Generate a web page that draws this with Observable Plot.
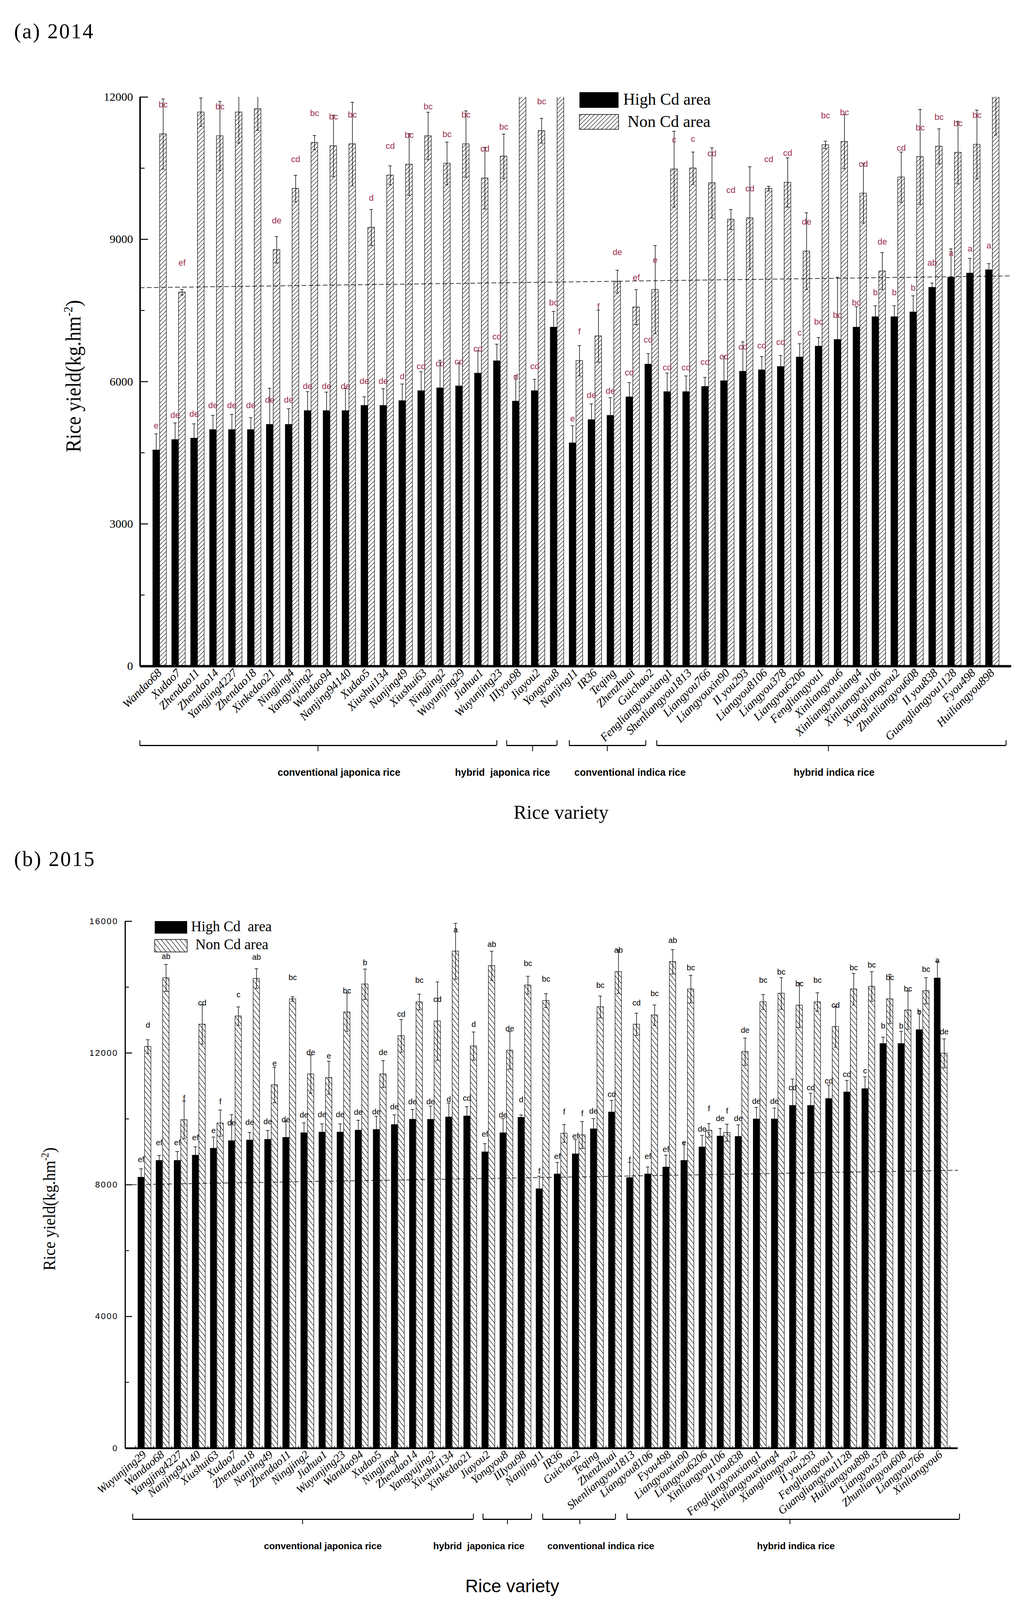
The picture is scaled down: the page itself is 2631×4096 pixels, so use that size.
<!DOCTYPE html>
<html>
<head>
<meta charset="utf-8">
<script src="https://cdn.jsdelivr.net/npm/d3@7"></script>
<script src="https://cdn.jsdelivr.net/npm/@observablehq/plot@0.6"></script>
<style>
html,body{margin:0;padding:0;background:#fff;}
#root{position:relative;width:2631px;height:4096px;overflow:hidden;background:#fff;}
#root > svg{position:absolute;left:0;}
</style>
</head>
<body>
<svg width="0" height="0" style="position:absolute">
  <defs>
    <pattern id="hatchA" patternUnits="userSpaceOnUse" width="11" height="11">
      <path d="M-2,2 L2,-2 M0,11 L11,0 M9,13 L13,9" stroke="#000" stroke-width="1.1" fill="none"/>
    </pattern>
    <pattern id="hatchB" patternUnits="userSpaceOnUse" width="12" height="15">
      <path d="M0,0 L12,15 M10,-2.5 L14,2.5 M-2,12.5 L2,17.5" stroke="#000" stroke-width="1.1" fill="none"/>
    </pattern>
  </defs>
</svg>
<div id="root"></div>
<script>
// ---------------- DATA : (a) 2014 ----------------
const varietiesA = ["Wandao68","Xudao7","Zhendao11","Zhendao14","Yangjing4227","Zhendao18","Xinkedao21","Ningjing4","Yangyujing2","Wandao94","Nanjing94140","Xudao5","Xiushui134","Nanjing49","Xiushui63","Ningjing2","Wuyunjing29","Jiahua1","Wuyunjing23","IIIyou98","Jiayou2","Yongyou8","Nanjing11","IR36","Teqing","Zhenzhuai","Guichao2","Fengliangyouxiang1","Shenliangyou1813","Liangyou766","Liangyouxin90","II you293","Liangyou8106","Liangyou378","Liangyou6206","Fengliangyou1","Xinliangyou6","Xinliangyouxiang4","Xinliangyou106","Xiangliangyou2","Zhunliangyou608","II you838","Guangliangyou1128","Fyou498","Huiliangyou898"];
const highA    = [4560,4780,4810,4990,4990,4990,5100,5100,5390,5390,5390,5500,5500,5600,5810,5870,5910,6180,6440,5590,5810,7150,4710,5200,5290,5680,6370,5790,5790,5900,6020,6220,6250,6320,6520,6750,6890,7150,7370,7370,7470,7990,8200,8290,8360];
const highErrA = [340,350,300,300,320,250,760,330,400,390,470,180,350,350,400,580,490,470,350,540,240,330,360,330,370,300,220,390,330,190,510,620,280,230,280,180,1310,430,230,230,340,90,600,310,130];
const highLetA = ["e","de","de","de","de","de","de","de","de","de","de","de","de","d","cd","cd","cd","cd","cd","d","cd","bc","e","de","de","cd","cd","cd","cd","cd","cd","cd","cd","cd","c","bc","bc","bc","b","b","b","ab","a","a","a"];
const nonA     = [11220,7885,11680,11180,11680,11750,8780,10070,11040,10970,11010,9250,10350,10580,11180,10600,11010,10290,10750,12600,11290,12700,6440,6960,8110,7570,7940,10480,10500,10190,9420,9450,10070,10200,8750,10990,11060,9970,8330,10310,10740,10960,10830,11000,12300];
const nonErrA  = [740,60,300,730,650,450,280,280,150,650,880,380,200,650,500,450,700,650,470,500,260,500,320,550,240,370,930,800,340,740,210,1080,50,520,810,80,570,625,390,530,1000,370,660,725,1100];
const nonLetA  = ["bc","ef","","bc","","","de","cd","bc","bc","bc","d","cd","bc","bc","bc","bc","cd","bc","","bc","","f","f","de","ef","e","c","c","cd","cd","cd","cd","cd","de","bc","bc","cd","de","cd","bc","bc","bc","bc",""];
const trendA   = [7980, 8230];
const yTicksA  = [0,3000,6000,9000,12000];
const yMinorA  = [1500,4500,7500,10500];
const groupsA  = ["conventional japonica rice","hybrid  japonica rice","conventional indica rice","hybrid indica rice"];

// ---------------- DATA : (b) 2015 ----------------
const varietiesB = ["Wuyunjing29","Wandao68","Yangjing4227","Nanjing94140","Xiushui63","Xudao7","Zhendao18","Nanjing49","Zhendao11","Ningjing2","Jiahua1","Wuyunjing23","Wandao94","Xudao5","Ningjing4","Zhendao14","Yangyujing2","Xiushui134","Xinkedao21","Jiayou2","Yongyou8","IIIyou98","Nanjing11","IR36","Guichao2","Teqing","Zhenzhuai","Shenliangyou1813","Liangyou8106","Fyou498","Liangyouxin90","Liangyou6206","Xinliangyou106","II you838","Fengliangyouxiang1","Xinliangyouxiang4","Xiangliangyou2","II you293","Fengliangyou1","Guangliangyou1128","Huiliangyou898","Liangyou378","Zhunliangyou608","Liangyou766","Xinliangyou6"];
const highB    = [8230,8740,8740,8900,9110,9340,9360,9380,9440,9580,9600,9600,9660,9680,9830,9990,9990,10060,10090,9000,9580,10050,7880,8330,8940,9700,10210,8220,8330,8540,8740,9150,9480,9470,10000,10000,10410,10410,10620,10820,10920,12290,12290,12710,14280];
const highErrB = [255,150,270,250,340,790,230,270,500,300,250,250,300,400,290,300,400,420,280,250,430,70,380,350,430,310,350,460,210,360,540,350,230,350,350,330,800,370,410,350,360,190,370,570,500];
const highLetB = ["ef","ef","ef","ef","e","de","de","de","de","de","de","de","de","de","de","de","de","d","cd","ef","de","d","f","ef","ef","de","cd","f","ef","ef","e","de","de","de","de","de","cd","cd","cd","cd","c","b","b","b","a"];
const nonB     = [12195,14280,9970,12870,9870,13120,14260,11030,13640,11360,11250,13240,14090,11360,12520,13550,12970,15090,12210,14650,12080,14060,13590,9560,9510,13400,14470,12870,13150,14770,13940,9650,9580,12040,13550,13810,13450,13550,12800,13940,14020,13640,13300,13890,11990];
const nonErrB  = [210,410,570,600,400,280,300,540,70,580,500,580,460,410,500,240,1190,850,430,440,570,270,210,270,410,330,660,340,310,370,420,210,260,415,225,480,680,280,620,480,450,750,580,400,440];
const nonLetB  = ["d","ab","f","cd","f","c","ab","e","bc","de","e","bc","b","de","cd","bc","cd","a","d","ab","de","bc","bc","f","f","bc","ab","cd","bc","ab","bc","f","f","de","bc","bc","bc","bc","cd","bc","bc","bc","bc","bc","de"];
const trendB   = [8000, 8440];
const yTicksB  = [0,4000,8000,12000,16000];
const yMinorB  = [2000,6000,10000,14000];
const groupsB  = ["conventional japonica rice","hybrid  japonica rice","conventional indica rice","hybrid indica rice"];

// ---------------- LAYOUT (output pixels / index units) ----------------
const W = 2631;
const layoutA = {
  top: 0, height: 2140, marginLeft: 358, marginRight: 43, marginTop: 248, marginBottom: 435,
  xDomain: [-1.04, 45.0], blk: [-0.37, -0.005], hat: [0.005, 0.355], cap: 0.09,
  pattern: "url(#hatchA)", letColor: "#9b2f4f", letFont: 22, nonLetOff: 75, highLetOff: 62,
  yTickFont: 30, yTickFamily: "Liberation Serif", yTickPad: 18, yLetterSpacing: "0px",
  majorLen: 21, minorLen: 12, yAxisW: 4, xAxisW: 6,
  xTickFont: 30, xRot: -45, xTickPad: 12,
  brY: 203, brUp: 13, brDown: 15, glY: 280, glFont: 25,
  brackets: [[-1.05, 17.81, 8.36, 9.47], [18.33, 20.99, 19.7, 18.11], [21.64, 25.68, 23.65, 24.85], [26.26, 44.72, 35.33, 35.63]],
  edgeTicks: false
};
const layoutB = {
  top: 2150, height: 1946, marginLeft: 320, marginRight: 180, marginTop: 208, marginBottom: 389,
  xDomain: [-1.07, 44.94], blk: [-0.37, -0.01], hat: [0.01, 0.36], cap: 0.1,
  pattern: "url(#hatchB)", letColor: "#000", letFont: 20, nonLetOff: 55, highLetOff: 45,
  yTickFont: 22, yTickFamily: "Liberation Sans", yTickPad: 18, yLetterSpacing: "2.5px",
  majorLen: 18, minorLen: 10, yAxisW: 3, xAxisW: 4.5,
  xTickFont: 29, xRot: -40, xTickPad: 12,
  brY: 182, brUp: 14, brDown: 13, glY: 258, glFont: 24,
  brackets: [[-0.66, 18.17, 8.73, 9.85], [18.7, 21.38, 20.05, 18.47], [22.0, 26.02, 24.05, 25.21], [26.66, 45.03, 35.66, 35.99]],
  edgeTicks: true
};

function panel(cfg, L) {
  const n = cfg.names.length;
  const rows = cfg.names.map((name, i) => ({
    i, name,
    high: cfg.high[i], highErr: cfg.highErr[i], highLet: cfg.highLet[i],
    non: cfg.non[i], nonErr: cfg.nonErr[i], nonLet: cfg.nonLet[i]
  }));
  const plotH = L.height - L.marginTop - L.marginBottom;
  const plotW = W - L.marginLeft - L.marginRight;
  const u = px => px * cfg.yMax / plotH;                       // px -> y units
  const xu = px => px * (L.xDomain[1] - L.xDomain[0]) / plotW; // px -> x units
  const blkC = d => d.i + (L.blk[0] + L.blk[1]) / 2;
  const hatC = d => d.i + (L.hat[0] + L.hat[1]) / 2;
  const trendPts = [{x: L.xDomain[0], y: cfg.trend[0]}, {x: L.xDomain[1], y: cfg.trend[1]}];
  const groups = cfg.groups.map((label, k) => ({label, from: L.brackets[k][0], to: L.brackets[k][1], mid: L.brackets[k][2], lx: L.brackets[k][3]}));
  const ends = groups.flatMap(g => [g.from, g.to]);
  const x0 = L.xDomain[0];

  const marks = [
    Plot.line(trendPts, {x: "x", y: "y", stroke: "#000", strokeWidth: 1.5, strokeDasharray: "11,7"}),
    Plot.rectY(rows, {x1: d => d.i + L.hat[0], x2: d => d.i + L.hat[1], y1: () => 0, y2: "non", fill: L.pattern, stroke: "#000", strokeWidth: 1.2, clip: true}),
    Plot.rectY(rows, {x1: d => d.i + L.blk[0], x2: d => d.i + L.blk[1], y1: () => 0, y2: "high", fill: "#000", clip: true}),
    // error bars: non Cd
    Plot.ruleX(rows, {x: hatC, y1: d => d.non - d.nonErr, y2: d => d.non + d.nonErr, stroke: "#000", strokeWidth: 1.4, clip: true}),
    Plot.ruleY(rows, {y: d => d.non + d.nonErr, x1: d => hatC(d) - L.cap, x2: d => hatC(d) + L.cap, stroke: "#000", strokeWidth: 1.4, clip: true}),
    Plot.ruleY(rows, {y: d => d.non - d.nonErr, x1: d => hatC(d) - L.cap, x2: d => hatC(d) + L.cap, stroke: "#000", strokeWidth: 1.4, clip: true}),
    // error bars: high Cd
    Plot.ruleX(rows, {x: blkC, y1: d => d.high - d.highErr, y2: d => d.high + d.highErr, stroke: "#000", strokeWidth: 1.4, clip: true}),
    Plot.ruleY(rows, {y: d => d.high + d.highErr, x1: d => blkC(d) - L.cap, x2: d => blkC(d) + L.cap, stroke: "#000", strokeWidth: 1.4, clip: true}),
    // significance letters
    Plot.text(rows.filter(d => d.nonLet), {x: hatC, y: "non", dy: -L.nonLetOff, text: "nonLet", fill: L.letColor, fontSize: L.letFont, fontFamily: "Liberation Sans", lineAnchor: "middle"}),
    Plot.text(rows.filter(d => d.highLet), {x: blkC, y: "high", dy: -L.highLetOff, text: "highLet", fill: L.letColor, fontSize: L.letFont, fontFamily: "Liberation Sans", lineAnchor: "middle"}),
    // axes
    Plot.ruleX([x0], {x: d => d, stroke: "#000", strokeWidth: L.yAxisW}),
    Plot.ruleY([0], {y: d => d, stroke: "#000", strokeWidth: L.xAxisW}),
    Plot.ruleY(cfg.yTicks, {y: d => d, x1: () => x0, x2: () => x0 + xu(L.majorLen), stroke: "#000", strokeWidth: 2.5}),
    Plot.ruleY(cfg.yMinor, {y: d => d, x1: () => x0, x2: () => x0 + xu(L.minorLen), stroke: "#000", strokeWidth: 2.2}),
    Plot.axisY({ticks: cfg.yTicks, tickFormat: d => String(d), tickSize: 0, tickPadding: L.yTickPad, fontSize: L.yTickFont, fontFamily: L.yTickFamily, label: null}),
    Plot.axisX({ticks: d3.range(n), tickFormat: i => cfg.names[i], tickRotate: L.xRot, tickSize: 0, tickPadding: L.xTickPad, fontSize: L.xTickFont, fontFamily: "Liberation Serif", fontStyle: "italic", label: null}),
    // group brackets
    Plot.ruleY(groups, {y: () => -u(L.brY), x1: "from", x2: "to", stroke: "#000", strokeWidth: 3}),
    Plot.ruleX(ends, {x: d => d, y1: () => -u(L.brY), y2: () => -u(L.brY - L.brUp), stroke: "#000", strokeWidth: 2.2}),
    Plot.ruleX(groups, {x: "mid", y1: () => -u(L.brY), y2: () => -u(L.brY + L.brDown), stroke: "#000", strokeWidth: 2}),
    Plot.text(groups, {x: "lx", y: () => -u(L.glY), text: "label", fontWeight: "bold", fontFamily: "Liberation Sans", fontSize: L.glFont, lineAnchor: "bottom"})
  ];
  if (L.edgeTicks) {
    marks.push(Plot.ruleX(d3.range(n + 1).map(i => i - 0.5), {x: d => d, y1: () => 0, y2: () => u(6), stroke: "#000", strokeWidth: 1.5}));
  }
  const svg = Plot.plot({
    width: W, height: L.height,
    marginLeft: L.marginLeft, marginRight: L.marginRight, marginTop: L.marginTop, marginBottom: L.marginBottom,
    x: {type: "linear", domain: L.xDomain},
    y: {type: "linear", domain: [0, cfg.yMax]},
    style: {fontFamily: "Liberation Serif", background: "transparent", overflow: "visible", maxWidth: "none"},
    marks
  });
  svg.style.top = L.top + "px";
  d3.select(svg).selectAll('g[aria-label="y-axis tick label"] text').style("letter-spacing", L.yLetterSpacing);
  return svg;
}

const root = document.getElementById("root");
root.appendChild(panel({names: varietiesA, high: highA, highErr: highErrA, highLet: highLetA, non: nonA, nonErr: nonErrA, nonLet: nonLetA, trend: trendA, yMax: 12000, yTicks: yTicksA, yMinor: yMinorA, groups: groupsA}, layoutA));
root.appendChild(panel({names: varietiesB, high: highB, highErr: highErrB, highLet: highLetB, non: nonB, nonErr: nonErrB, nonLet: nonLetB, trend: trendB, yMax: 16000, yTicks: yTicksB, yMinor: yMinorB, groups: groupsB}, layoutB));

// ---------------- titles, axis titles, legends (overlay) ----------------
const ov = d3.select(root).append("svg").attr("width", W).attr("height", 4096)
  .style("top", "0px").style("pointer-events", "none");

function txt(x, y, s, o = {}) {
  const t = ov.append("text").attr("x", x).attr("y", y).text(s)
    .attr("font-family", o.family || "Liberation Serif").attr("font-size", o.size || 40)
    .attr("text-anchor", o.anchor || "start").attr("fill", "#000").style("white-space", "pre");
  if (o.ls) t.attr("letter-spacing", o.ls);
  if (o.weight) t.attr("font-weight", o.weight);
  return t;
}
txt(36, 98, "(a) 2014", {size: 54, ls: 3});
txt(36, 2217, "(b) 2015", {size: 54, ls: 3});

function yTitle(x, y, size, sup, len) {
  const t = ov.append("text").attr("transform", `translate(${x},${y}) rotate(-90)`)
    .attr("text-anchor", "middle").attr("font-family", "Liberation Serif").attr("font-size", size)
    .attr("textLength", len).attr("lengthAdjust", "spacingAndGlyphs");
  t.append("tspan").text("Rice yield(kg.hm");
  t.append("tspan").attr("font-size", size * 0.6).attr("dy", -sup).text("-2");
  t.append("tspan").attr("dy", sup).text(")");
}
yTitle(206, 963, 54, 21, 390);
yTitle(141, 3095, 44, 17, 315);

txt(1436, 2096, "Rice variety", {size: 50, anchor: "middle"});
txt(1311, 4076, "Rice variety", {size: 46, anchor: "middle", family: "Liberation Sans"});

// legend (a)
ov.append("rect").attr("x", 1483).attr("y", 236).attr("width", 100).attr("height", 40).attr("fill", "#000");
ov.append("rect").attr("x", 1483).attr("y", 293).attr("width", 100).attr("height", 38).attr("fill", "url(#hatchA)").attr("stroke", "#000").attr("stroke-width", 1.5);
txt(1595, 268, "High Cd area", {size: 42});
txt(1606, 325, "Non Cd area", {size: 42});
// legend (b)
ov.append("rect").attr("x", 396).attr("y", 2358).attr("width", 83).attr("height", 32).attr("fill", "#000");
ov.append("rect").attr("x", 396).attr("y", 2405).attr("width", 83).attr("height", 32).attr("fill", "url(#hatchB)").attr("stroke", "#000").attr("stroke-width", 1.5);
txt(489, 2384, "High Cd  area", {size: 37});
txt(500, 2430, "Non Cd area", {size: 37});
</script>
</body>
</html>
